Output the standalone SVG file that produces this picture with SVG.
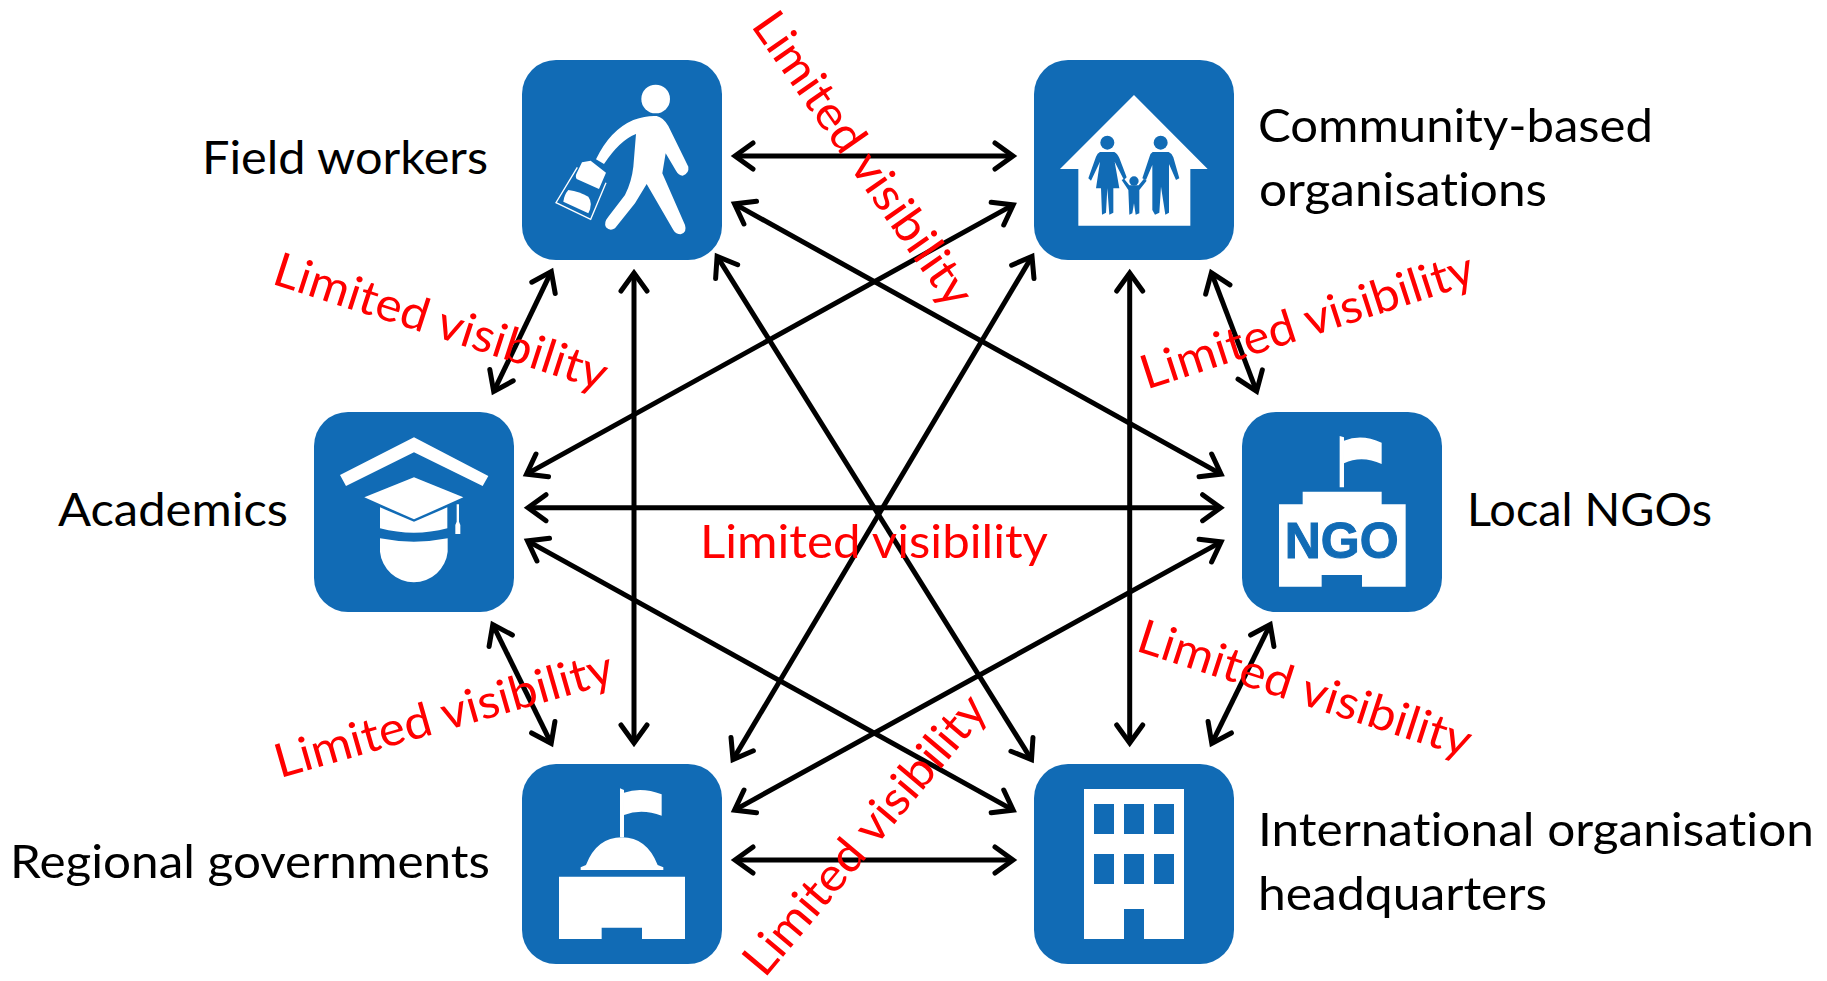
<svg xmlns="http://www.w3.org/2000/svg" width="1827" height="981" viewBox="0 0 1827 981">
<style>
.box{fill:#116bb5}
.w{fill:#fff}
.b{fill:#116bb5}
.lab{font-family:Lato,"Open Sans",sans-serif;font-size:47px;fill:#000;font-variant-ligatures:none}
.red{font-family:Lato,"Open Sans",sans-serif;font-size:47px;fill:#f00;text-anchor:middle;font-variant-ligatures:none}
.c line{stroke:#000;stroke-width:5;marker-start:url(#h);marker-end:url(#h)}
</style>
<defs>
<marker id="h" markerUnits="userSpaceOnUse" markerWidth="60" markerHeight="60" refX="30" refY="30" viewBox="0 0 60 60" orient="auto-start-reverse">
<path d="M12,17 L30,30 L12,43" fill="none" stroke="#000" stroke-width="5" stroke-linecap="round" stroke-miterlimit="10"/>
</marker>
</defs>
<rect width="1827" height="981" fill="#fff"/>
<g id="connectors" class="c">
<line x1="735" y1="156" x2="1013" y2="156"/>
<line x1="734.5" y1="203.9" x2="1221.1" y2="474.1"/>
<line x1="717.1" y1="256.4" x2="1031.5" y2="759.6"/>
<line x1="634" y1="273" x2="634" y2="743"/>
<line x1="551.3" y1="271.6" x2="493.7" y2="391.4"/>
<line x1="1013.2" y1="204.9" x2="526.5" y2="474.1"/>
<line x1="1032" y1="256.4" x2="733" y2="759.6"/>
<line x1="1129.7" y1="273" x2="1129.7" y2="743"/>
<line x1="1211.4" y1="272.7" x2="1256.6" y2="391.3"/>
<line x1="528" y1="507.7" x2="1220.6" y2="507.7"/>
<line x1="527.5" y1="540.9" x2="1013.2" y2="810.1"/>
<line x1="492.8" y1="624.6" x2="551.2" y2="743.4"/>
<line x1="1221.1" y1="541.9" x2="734.5" y2="810.1"/>
<line x1="1270.2" y1="624.6" x2="1211.8" y2="743.4"/>
<line x1="735" y1="860" x2="1013" y2="860"/>
</g>
<g id="field-workers">
<rect class="box" x="522" y="60" width="200" height="200" rx="34"/>
<g transform="translate(500,40) scale(.33333)">
<circle class="w" cx="467" cy="177" r="43"/>
<path class="w" d="M288 358 Q330 270 400 240 Q440 226 470 228 Q490 232 505 258 L565 380 Q568 400 548 407 Q535 405 528 392 L497 340 L487 400 L555 555 Q562 578 542 583 Q528 583 520 570 L440 432 L405 490 L345 565 Q330 575 318 562 Q310 548 325 530 L375 465 Q395 425 400 380 L408 282 Q360 300 312 372 Z"/>
<path d="M232 382 L168 488 L272 538 L318 428" fill="none" stroke="#fff" stroke-width="4"/>
<path class="w" d="M246 367 L272 362 L318 398 L297 447 L230 417 Q225 410 230 400 Z"/>
<path class="w" d="M205 450 Q240 455 265 470 Q280 490 265 520 L190 485 Q192 465 205 450 Z"/>
</g>
<text class="lab" x="202" y="174" textLength="286" lengthAdjust="spacingAndGlyphs">Field workers</text>
</g>
<g id="community-based-organisations">
<rect class="box" x="1034" y="60" width="200" height="200" rx="34"/>
<g transform="translate(1020,40) scale(.33333)">
<path class="w" d="M342 165 L563 387 H511 V557 H175 V387 H120 Z"/>
<circle class="b" cx="262" cy="308" r="21"/>
<circle class="b" cx="422" cy="308" r="21"/>
<circle class="b" cx="342" cy="423" r="14"/>
<path class="b" d="M240 336 H283 Q292 340 298 354 L320 412 L312 420 L284 365 L298 445 H280 V518 L268 524 L262 445 L258 518 L246 524 L243 445 H228 L240 365 L213 422 L205 415 L228 350 Q232 340 240 336 Z"/>
<path class="b" d="M398 336 H446 Q456 340 460 352 L478 415 L468 420 L447 372 V445 V518 L436 524 L423 440 L418 518 L405 524 L397 510 V375 L378 420 L367 415 L388 352 Q390 340 398 336 Z"/>
<path class="b" d="M305 420 L312 416 L328 436 H356 L372 416 L380 422 L358 450 V520 L347 524 L342 490 L337 520 L328 524 L325 450 Z"/>
</g>
<text class="lab" x="1258" y="142" textLength="395" lengthAdjust="spacingAndGlyphs">Community-based</text>
<text class="lab" x="1259" y="206" textLength="288" lengthAdjust="spacingAndGlyphs">organisations</text>
</g>
<g id="academics">
<rect class="box" x="314" y="412" width="200" height="200" rx="34"/>
<g transform="translate(300,400) scale(.33333)">
<path class="w" d="M342 112 L565 228 L548 258 L342 157 L138 258 L120 225 Z"/>
<path class="w" d="M342 232 L490 292 L342 358 L193 292 Z"/>
<path class="w" d="M240 322 L342 365 L442 322 V385 Q342 412 240 385 Z"/>
<path class="w" d="M470 313 H477 V365 L481 375 V402 H466 V375 L470 365 Z"/>
<path class="w" d="M240 415 Q342 435 443 415 V455 A102 102 0 0 1 240 455 Z"/>
</g>
<text class="lab" x="58" y="526" textLength="230" lengthAdjust="spacingAndGlyphs">Academics</text>
</g>
<g id="local-ngos">
<rect class="box" x="1242" y="412" width="200" height="200" rx="34"/>
<g transform="translate(1230,400) scale(.33333)">
<path class="w" d="M329 108 L342 112 V262 H329 Z"/>
<path class="w" d="M342 122 Q395 100 455 128 V192 Q395 165 342 190 Z"/>
<path class="w" d="M218 275 H455 V313 H527 V560 H396 V525 H275 V560 H147 V313 H218 Z"/>
<text x="335" y="475" text-anchor="middle" font-family="'Liberation Sans',Arial,sans-serif" font-weight="700" font-size="150" class="b" stroke="#116bb5" stroke-width="3" textLength="342" lengthAdjust="spacingAndGlyphs">NGO</text>
</g>
<text class="lab" x="1467" y="526" textLength="245" lengthAdjust="spacingAndGlyphs">Local NGOs</text>
</g>
<g id="regional-governments">
<rect class="box" x="522" y="764" width="200" height="200" rx="34"/>
<g transform="translate(500,750) scale(.33333)">
<path class="w" d="M360 115 L372 120 V262 H360 Z"/>
<path class="w" d="M372 128 Q425 110 485 133 V197 Q425 175 372 195 Z"/>
<path class="w" d="M258 345 Q290 262 366 262 Q440 262 473 345 L490 352 V360 H242 V352 Z"/>
<path class="w" d="M177 380 H555 V567 H426 V533 H305 V567 H177 Z"/>
</g>
<text class="lab" x="10" y="878" textLength="480" lengthAdjust="spacingAndGlyphs">Regional governments</text>
</g>
<g id="international-organisation-headquarters">
<rect class="box" x="1034" y="764" width="200" height="200" rx="34"/>
<g transform="translate(1020,750) scale(.33333)">
<path class="w" d="M192 117 H492 V567 H372 V477 H312 V567 H192 Z"/>
<path class="b" d="M222 162 h60 v90 h-60 Z M312 162 h60 v90 h-60 Z M402 162 h60 v90 h-60 Z M222 312 h60 v90 h-60 Z M312 312 h60 v90 h-60 Z M402 312 h60 v90 h-60 Z"/>
</g>
<text class="lab" x="1258" y="846" textLength="556" lengthAdjust="spacingAndGlyphs">International organisation</text>
<text class="lab" x="1258" y="910" textLength="289" lengthAdjust="spacingAndGlyphs">headquarters</text>
</g>
<g id="labels">
<text class="red" transform="translate(874,558)" textLength="348" lengthAdjust="spacingAndGlyphs">Limited visibility</text>
<text class="red" transform="translate(850,168) rotate(55)" textLength="348" lengthAdjust="spacingAndGlyphs">Limited visibility</text>
<text class="red" transform="translate(436,337) rotate(18)" textLength="348" lengthAdjust="spacingAndGlyphs">Limited visibility</text>
<text class="red" transform="translate(1312,336) rotate(-18)" textLength="348" lengthAdjust="spacingAndGlyphs">Limited visibility</text>
<text class="red" transform="translate(448,730) rotate(-16)" textLength="350" lengthAdjust="spacingAndGlyphs">Limited visibility</text>
<text class="red" transform="translate(1300,704) rotate(18)" textLength="348" lengthAdjust="spacingAndGlyphs">Limited visibility</text>
<text class="red" transform="translate(877,845) rotate(-50)" textLength="350" lengthAdjust="spacingAndGlyphs">Limited visibility</text>
</g>
</svg>
